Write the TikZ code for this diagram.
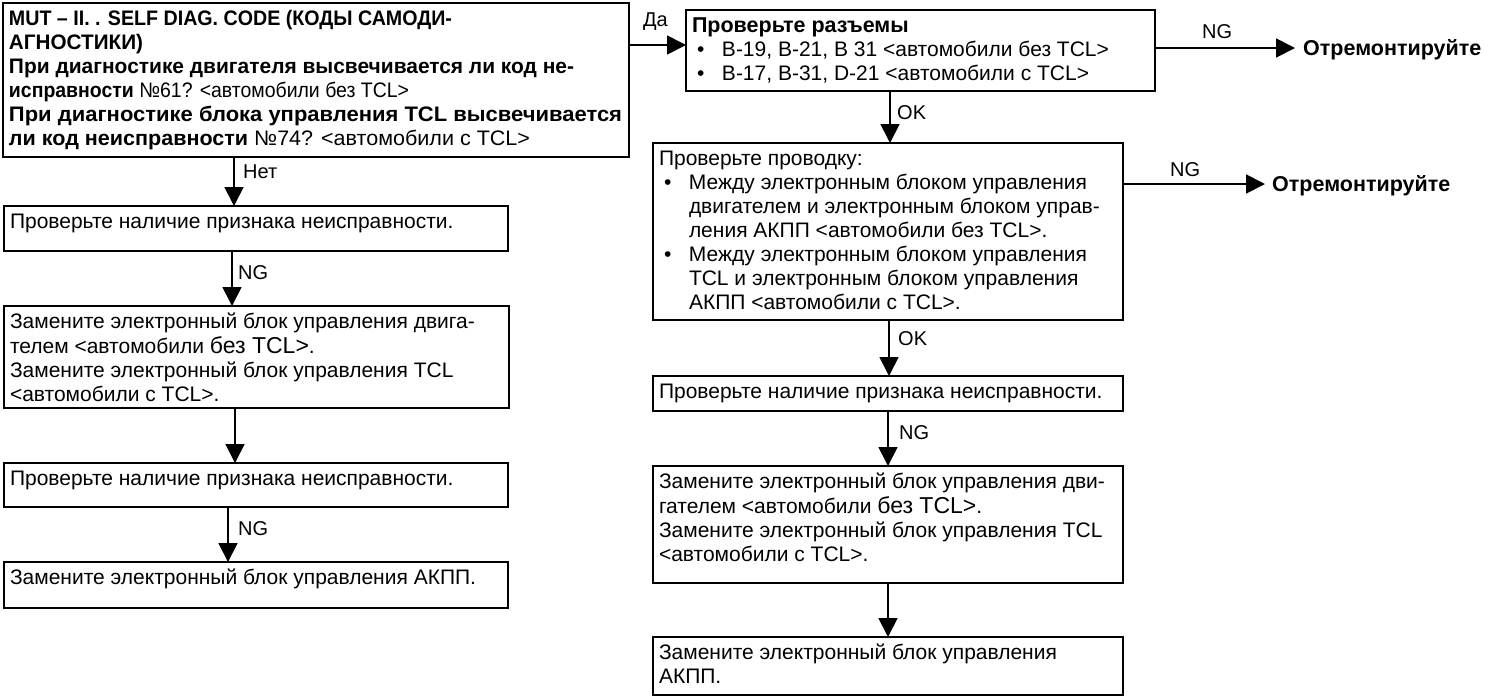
\documentclass[tikz,border=0pt]{standalone}
\usepackage{fontspec}
\usepackage{graphicx}
\setmainfont{Liberation Sans}
\usetikzlibrary{arrows.meta}
\newcommand{\bxt}[3]{\parbox[c][#2][t]{#1}{\raggedright\strut #3}}
\newcommand{\bul}{\makebox[30pt][l]{\hspace{5pt}•}}
\newcommand{\ind}{\hspace*{30pt}}
\newcommand{\bigtxt}[1]{{\fontsize{23pt}{24pt}\selectfont #1}}
\newcommand{\fitw}[2]{\resizebox{#1}{\height}{#2}}
\newcommand{\fa}{\fontsize{20pt}{24pt}\selectfont}
\newcommand{\fb}{\fontsize{21pt}{24pt}\selectfont}
\begin{document}
\begin{tikzpicture}[x=1pt,y=-1pt,
  every node/.style={font=\fb},
  box/.style={draw, line width=1.8pt, anchor=north west, inner xsep=6pt, inner ysep=6pt, outer sep=0pt},
  lbl/.style={inner sep=0pt, anchor=base west, font=\fa},
  rep/.style={anchor=west, inner ysep=0pt, text height=14pt, text depth=0pt, font=\fontsize{21.5pt}{24pt}\selectfont\bfseries},
  arr/.style={line width=1.8pt, -{Triangle[length=19pt,width=19pt]}}]
\useasboundingbox (0,0) rectangle (1497,697);
% left column
\node[box] (A) at (3,3) {\bxt{614pt}{142pt}{\fitw{443pt}{\textbf{MUT – II. . SELF DIAG. CODE (КОДЫ САМОДИ-}}\\
\fitw{134pt}{\textbf{АГНОСТИКИ)}}\\
\fitw{565pt}{\textbf{При диагностике двигателя высвечивается ли код не-}}\\
\fitw{400pt}{\textbf{исправности} №61? <автомобили без TCL>}\\
\fitw{613pt}{\textbf{При диагностике блока управления TCL высвечивается}}\\
\fitw{521pt}{\textbf{ли код неисправности} №74? <автомобили с TCL>}}};
\node[box] (L2) at (4,206) {\bxt{492pt}{33pt}{Проверьте наличие признака неисправности.}};
\node[box] (L3) at (4,306) {\bxt{493pt}{90pt}{Замените электронный блок управления двига-\\
телем <автомобили \bigtxt{без TCL>}.\\
Замените электронный блок управления TCL\\
<автомобили с TCL>.}};
\node[box] (L4) at (4,463) {\bxt{492pt}{32pt}{Проверьте наличие признака неисправности.}};
\node[box] (L5) at (4,562) {\bxt{492pt}{34pt}{Замените электронный блок управления АКПП.}};
% right column
\node[box] (B) at (686,10) {\bxt{457pt}{69pt}{{\fontsize{21.5pt}{24pt}\selectfont\bfseries Проверьте разъемы}\\
\bul B-19, B-21, B 31 <автомобили без TCL>\\
\bul B-17, B-31, D-21 <автомобили с TCL>}};
\node[box] (C) at (653,143) {\bxt{458pt}{165pt}{Проверьте проводку:\\
\bul Между электронным блоком управления\\
\ind двигателем и электронным блоком управ-\\
\ind ления АКПП <автомобили без TCL>.\\
\bul Между электронным блоком управления\\
\ind TCL и электронным блоком управления\\
\ind АКПП <автомобили с TCL>.}};
\node[box] (D) at (653,376) {\bxt{458pt}{23pt}{Проверьте наличие признака неисправности.}};
\node[box] (E) at (653,466) {\bxt{458pt}{105pt}{Замените электронный блок управления дви-\\
гателем <автомобили \bigtxt{без TCL>}.\\
Замените электронный блок управления TCL\\
<автомобили с TCL>.}};
\node[box] (F) at (653,637) {\bxt{458pt}{46pt}{Замените электронный блок управления\\
АКПП.}};
% repair targets
\node[rep, inner xsep=8pt] (R1) at (1295,48) {Отремонтируйте};
\node[rep, inner xsep=7pt] (R2) at (1265,184) {Отремонтируйте};
% labels
\node[lbl] (da) at (643,26) {Да};
\node[lbl] (net) at (243,178) {Нет};
\node[lbl] (ng1) at (238,279) {NG};
\node[lbl] (ng2) at (238,535) {NG};
\node[lbl] (ok1) at (897,119) {OK};
\node[lbl] (ok2) at (898,345) {OK};
\node[lbl] (ng3) at (899,439) {NG};
\node[lbl] (ng4) at (1202,38) {NG};
\node[lbl] (ng5) at (1170,176) {NG};
% connectors
\draw[arr] (A.east |- 0,45) -- (B.west |- 0,45);
\draw[arr] (B.east |- R1.west) -- (R1.west);
\draw[arr] (C.east |- R2.west) -- (R2.west);
\draw[arr] (890,0 |- B.south) -- (890,0 |- C.north);
\draw[arr] (889,0 |- C.south) -- (889,0 |- D.north);
\draw[arr] (888,0 |- D.south) -- (888,0 |- E.north);
\draw[arr] (888,0 |- E.south) -- (888,0 |- F.north);
\draw[arr] (234,0 |- A.south) -- (234,0 |- L2.north);
\draw[arr] (232,0 |- L2.south) -- (232,0 |- L3.north);
\draw[arr] (235,0 |- L3.south) -- (235,0 |- L4.north);
\draw[arr] (228,0 |- L4.south) -- (228,0 |- L5.north);
\end{tikzpicture}
\end{document}
